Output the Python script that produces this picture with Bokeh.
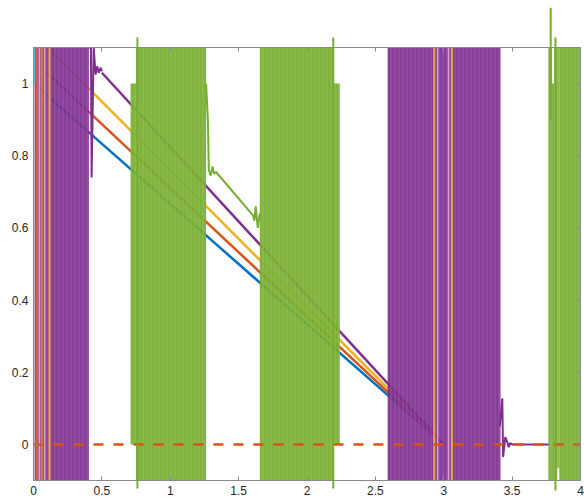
from bokeh.plotting import figure
from bokeh.models import LinearAxis, Range1d, FixedTicker
from bokeh.embed import file_html
from bokeh.resources import INLINE

# ---------------- data ----------------
x_ticks = [0, 0.5, 1, 1.5, 2, 2.5, 3, 3.5, 4]
x_tick_labels = ["0", "0.5", "1", "1.5", "2", "2.5", "3", "3.5", "4"]
y_ticks = [0, 0.2, 0.4, 0.6, 0.8, 1]
y_tick_labels = ["0", "0.2", "0.4", "0.6", "0.8", "1"]

# straight decaying series (start / end points)
diag_x = [0.0, 3.0]
blue_y = [1.0, 0.0]
red_y = [1.065, 0.0]
yellow_y = [1.14, 0.0]
purple_diag_x = [0.50, 3.0]
purple_diag_y = [1.03, 0.0]

# purple oscillation blocks (x start, x end, low, high)
pb_x0 = [0.0, 2.59]
pb_x1 = [0.405, 3.415]
pb_lo = [-0.1, -0.1]
pb_hi = [1.1, 1.1]

# purple transients after the blocks
purple_t1_x = [0.405, 0.42, 0.425, 0.44, 0.454, 0.466, 0.478, 0.49, 0.50]
purple_t1_y = [1.1, 1.1, 0.74, 1.1, 1.025, 1.048, 1.03, 1.044, 1.034]
purple_t2_x = [3.41, 3.428, 3.434, 3.45, 3.465, 3.475, 3.485, 3.50, 3.77]
purple_t2_y = [0.05, 0.128, -0.035, 0.02, 0.006, -0.008, 0.004, 0.0, 0.0]

# green oscillation blocks
gb_x0 = [0.71, 0.75, 1.655, 2.195, 3.765, 3.792, 3.808, 3.83, 3.845]
gb_x1 = [0.75, 1.262, 2.195, 2.24, 3.792, 3.808, 3.83, 3.845, 4.0]
gb_lo = [0.0, -0.1, -0.1, 0.0, -0.1, -0.1, -0.1, -0.065, -0.1]
gb_hi = [1.0, 1.1, 1.1, 1.0, 1.1, 1.0, 1.1, 1.1, 1.1]

# green transient between blocks
green_t_x = [1.262, 1.275, 1.282, 1.295, 1.31, 1.32, 1.335, 1.605, 1.615, 1.625, 1.64, 1.655]
green_t_y = [1.0, 0.9, 0.76, 0.745, 0.77, 0.75, 0.755, 0.635, 0.62, 0.66, 0.6, 0.64]

# green overshoot spikes
gs_x = [0.76, 2.192, 3.782, 3.817]
gs_lo = [-0.122, -0.122, 0.9, -0.128]
gs_hi = [1.128, 1.128, 1.21, 1.128]

# thin vertical transients inside purple blocks
vl_x = [0.026, 0.06, 0.117, 2.93, 3.06]
vl_color = ["#D9622B", "#E0842E", "#EDAA3A", "#EDA63A", "#EDA63A"]
pk_x = [0.006, 0.043, 0.082, 2.955, 3.035]

# light blue start segment
cyan_x = [0.004, 0.004]
cyan_y = [1.0, 1.1]

# reference level
ref_x = [0.0, 4.0]
ref_y = [0.0, 0.0]

# ---------------- figure ----------------
p = figure(width=584, height=502, x_range=Range1d(0, 4), y_range=Range1d(-0.1, 1.1),
           output_backend="svg", toolbar_location=None,
           min_border_left=33, min_border_right=4, min_border_top=47, min_border_bottom=22)
p.xgrid.visible = False
p.ygrid.visible = False
p.outline_line_color = None
p.background_fill_color = "white"
p.border_fill_color = "white"

BLUE, RED, YELLOW, PURPLE, GREEN, CYAN = "#0072BD", "#D95319", "#EDB120", "#7E2F8E", "#77AC30", "#4DBEEE"

p.line(diag_x, blue_y, line_color=BLUE, line_width=2.5)
p.line(diag_x, red_y, line_color=RED, line_width=2.5)
p.line(diag_x, yellow_y, line_color=YELLOW, line_width=2.5)
p.line(purple_diag_x, purple_diag_y, line_color=PURPLE, line_width=2.5)

p.quad(left=pb_x0, right=pb_x1, bottom=pb_lo, top=pb_hi, fill_color=PURPLE, fill_alpha=0.92,
       line_color=None, hatch_pattern="vertical_line", hatch_color="#A86AB8",
       hatch_scale=4, hatch_weight=1, hatch_alpha=0.5)
p.line(purple_t1_x, purple_t1_y, line_color=PURPLE, line_width=2)
p.line(purple_t2_x, purple_t2_y, line_color=PURPLE, line_width=2)

p.segment(x0=pk_x, y0=-0.1, x1=pk_x, y1=1.1, line_color="#D8A6CF", line_width=1.5)
p.segment(x0=vl_x, y0=-0.1, x1=vl_x, y1=1.1, line_color=vl_color, line_width=2)

p.quad(left=gb_x0, right=gb_x1, bottom=gb_lo, top=gb_hi, fill_color=GREEN, fill_alpha=0.92,
       line_color=None, hatch_pattern="vertical_line", hatch_color="#9CCB63",
       hatch_scale=4, hatch_weight=1, hatch_alpha=0.5)
p.line(green_t_x, green_t_y, line_color=GREEN, line_width=2)
p.segment(x0=gs_x, y0=gs_lo, x1=gs_x, y1=gs_hi, line_color=GREEN, line_width=2, level="overlay")

p.line(cyan_x, cyan_y, line_color=CYAN, line_width=2.5)
p.line(ref_x, ref_y, line_color=RED, line_width=2.5, line_dash="10 10")

# ---------------- axes ----------------
AX = "#8a8a8a"
FONT = "Liberation Sans"

def style(ax):
    ax.axis_line_color = AX
    ax.major_tick_line_color = AX
    ax.minor_tick_line_color = None
    ax.major_tick_in = 4
    ax.major_tick_out = 0
    ax.major_label_text_font = FONT
    ax.major_label_text_font_size = "12px"
    ax.major_label_text_color = "#262626"
    ax.major_label_standoff = 5

p.xaxis.ticker = FixedTicker(ticks=x_ticks)
p.yaxis.ticker = FixedTicker(ticks=y_ticks)
p.xaxis.major_label_overrides = {float(t): s for t, s in zip(x_ticks, x_tick_labels)}
p.yaxis.major_label_overrides = {float(t): s for t, s in zip(y_ticks, y_tick_labels)}
style(p.xaxis[0])
style(p.yaxis[0])

# box axes (ticks only, no labels)
top = LinearAxis(ticker=FixedTicker(ticks=x_ticks))
right = LinearAxis(ticker=FixedTicker(ticks=y_ticks))
for ax in (top, right):
    style(ax)
    ax.major_label_standoff = 0
    ax.major_label_text_font_size = "0px"
    ax.major_label_text_alpha = 0
top.major_label_overrides = {float(t): "" for t in x_ticks}
right.major_label_overrides = {float(t): "" for t in y_ticks}
p.add_layout(top, "above")
p.add_layout(right, "right")

open("out.html", "w").write(file_html(p, INLINE))
